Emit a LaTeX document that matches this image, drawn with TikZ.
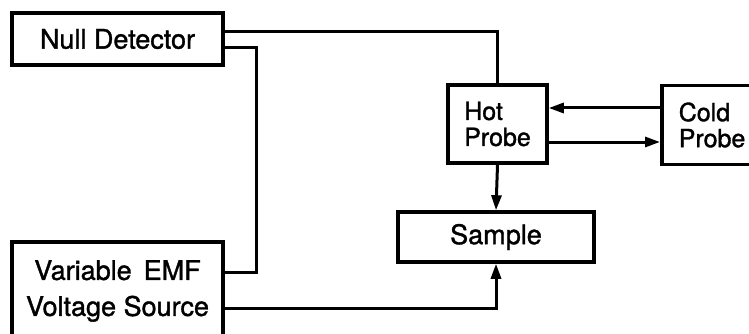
\documentclass[tikz,border=0pt]{standalone}
\usepackage{fontspec}
\setmainfont{TeX Gyre Heros}[BoldFont=TeX Gyre Heros, BoldFeatures={FakeBold=1.3}]
\usetikzlibrary{arrows.meta}
\begin{document}
\begin{tikzpicture}[x=1pt,y=-1pt,
  box/.style={draw=black, line width=3.5pt, inner sep=0pt, font=\fontsize{27}{27}\selectfont\bfseries},
  probe/.style={box, font=\fontsize{25}{26}\selectfont\bfseries},
  wire/.style={draw=black, line width=3pt},
  arr/.style={-{Triangle[length=15pt,width=10pt]}}]
\useasboundingbox (0,0) rectangle (749,334);
\fill[white] (0,0) rectangle (749,334);
\clip (0,0) rectangle (749,334);
\node[box, minimum width=211pt, minimum height=52pt] (null) at (117.5,39) {Null Detector};
\node[probe, minimum width=99pt, minimum height=78pt, align=left] (hot) at (497.5,124) {Hot\\Probe};
\node[probe, anchor=west, inner xsep=17pt, text width=100pt, minimum height=79pt, align=left] (cold) at (660,125) {Cold\\Probe};
\node[box, minimum width=196pt, minimum height=50pt] (sample) at (496,237) {Sample};
\node[box, anchor=north, minimum width=211pt, minimum height=130pt] (emf) at (117.5,240) {};
\node[font=\fontsize{27}{36}\selectfont\bfseries, align=center, inner sep=0pt] (emftext) at (117.5,291) {Variable\, EMF\\Voltage Source};
\draw[wire] ([yshift=-20pt]null.north east) -| (hot.north);
\draw[wire] ([yshift=-36pt]null.north east) -- ++(32,0) |- ([yshift=-32pt]emf.north east);
\draw[wire, arr] ([yshift=-68pt]emf.north east) -| (sample.south);
\draw[wire, arr] (hot.south) -- (sample.north);
\draw[wire, arr] (cold.west |- 0,108) -- (hot.east |- 0,108);
\draw[wire, arr] (hot.east |- 0,142) -- (cold.west |- 0,142);
\end{tikzpicture}
\end{document}
